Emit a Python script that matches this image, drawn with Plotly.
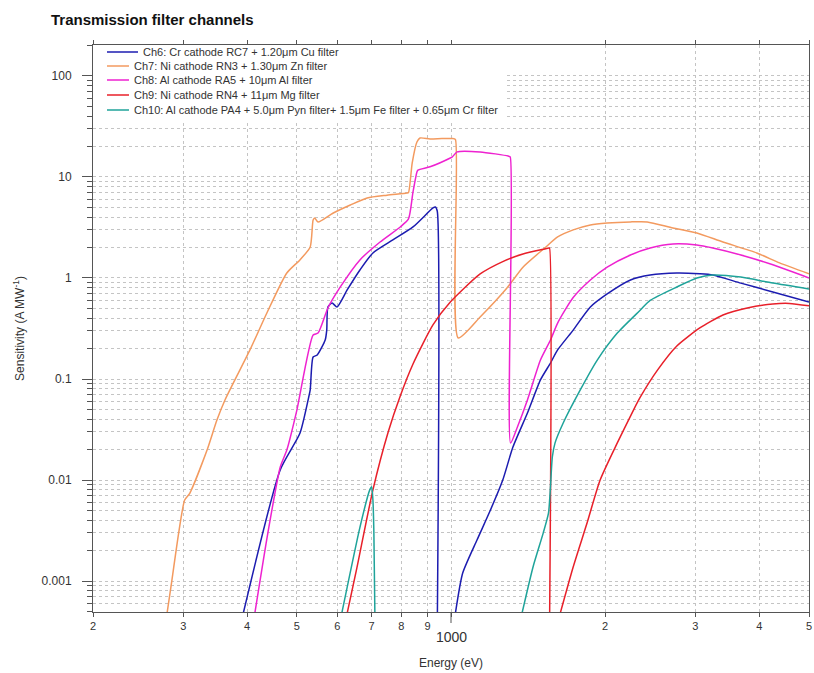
import plotly.graph_objects as go

# Sensitivity curves (A/MW) versus photon energy (eV); None splits a curve at a filter edge
ch6_energy = [393, 464, 507, 526, 531, 538, 548, 568, 572, 575, 586, 599, 627, 664, 704, 770, 843, 922,
              932, 940, 940, None,
              1020, 1054, 1124, 1194, 1262, 1321, 1410, 1495, 1564, 1615, 1732, 1871, 2018, 2241, 2448,
              2760, 3060, 3245, 3680, 4250, 5000]
ch6_sens = [0.00048, 0.0126, 0.029, 0.062, 0.078, 0.165, 0.173, 0.243, 0.305, 0.516, 0.566, 0.516, 0.761,
            1.2, 1.77, 2.38, 3.2, 4.93, 5.05, 4.6, 0.0003, None,
            0.00048, 0.0012, 0.00255, 0.00505, 0.01, 0.0212, 0.046, 0.098, 0.144, 0.194, 0.305, 0.516,
            0.695, 0.955, 1.07, 1.12, 1.10, 1.07, 0.89, 0.727, 0.578]

ch7_energy = [279, 285, 302, 309, 334, 349, 362, 405, 437, 478, 507, 531, 538, 542, 550, 589, 636, 686,
              750, 820, 826, 840, 858, 870, 910, 960, 1006, 1020, 1033, 1140, 1286, 1382, 1524, 1615,
              1732, 1871, 2018, 2241, 2416, 2712, 3020, 3396, 3954, 4380, 5000]
ch7_sens = [0.00048, 0.001, 0.00634, 0.0074, 0.0198, 0.039, 0.062, 0.194, 0.45, 1.12, 1.51, 2.03, 3.75,
            3.93, 3.58, 4.4, 5.28, 6.2, 6.6, 6.93, 7.0, 13.8, 22.2, 24.3, 23.8, 24.0, 24.0, 23.5, 0.255,
            0.411, 0.796, 1.28, 1.98, 2.55, 2.99, 3.35, 3.5, 3.59, 3.59, 3.13, 2.79, 2.27, 1.77, 1.41,
            1.10]

ch8_energy = [414, 439, 464, 478, 500, 538, 550, 575, 608, 664, 727, 796, 826, 843, 858, 862, 910, 997,
              1006, 1028, 1140, 1293, 1305, 1307, 1348, 1410, 1495, 1564, 1615, 1732, 1871, 2018, 2241,
              2448, 2712, 3020, 3245, 3680, 4250, 5000]
ch8_sens = [0.00048, 0.003, 0.0134, 0.0198, 0.049, 0.273, 0.285, 0.505, 0.815, 1.51, 2.27, 3.2, 3.84,
            7.1, 11.2, 11.7, 12.6, 15.4, 15.8, 17.7, 17.7, 16.1, 15.8, 0.0232, 0.0335, 0.062, 0.154,
            0.243, 0.358, 0.64, 0.955, 1.28, 1.69, 1.98, 2.17, 2.12, 1.98, 1.69, 1.35, 1.0]

ch9_energy = [627, 655, 704, 754, 796, 843, 922, 997, 1140, 1268, 1382, 1524, 1552, 1557, 1557, None,
              1634, 1732, 1846, 1955, 2112, 2270, 2343, 2532, 2760, 3060, 3396, 3788, 4250, 4580, 5000]
ch9_sens = [0.00048, 0.00135, 0.008, 0.0299, 0.068, 0.141, 0.343, 0.578, 1.096, 1.47, 1.73, 1.94, 1.98,
            1.98, 0.0003, None,
            0.00048, 0.00138, 0.00384, 0.01, 0.0233, 0.049, 0.0664, 0.123, 0.212, 0.32, 0.43, 0.505,
            0.553, 0.56, 0.53]

ch10_energy = [612, 664, 694, 700, 704, 707, 711, None,
               1376, 1446, 1514, 1550, 1564, 1577, 1596, 1656, 1788, 1930, 2112, 2343, 2448, 2760, 3020,
               3245, 3680, 4250, 5000]
ch10_sens = [0.00048, 0.0034, 0.008, 0.0086, 0.0063, 0.003, 0.0003, None,
             0.00048, 0.00138, 0.003, 0.0047, 0.0086, 0.0169, 0.0232, 0.0367, 0.078, 0.154, 0.285,
             0.482, 0.6, 0.815, 1.0, 1.07, 1.02, 0.89, 0.78]

channel_names = [
    "Ch6: Cr cathode RC7 + 1.20μm Cu filter",
    "Ch7: Ni cathode RN3 + 1.30μm Zn filter",
    "Ch8: Al cathode RA5 + 10μm Al filter",
    "Ch9: Ni cathode RN4 + 11μm Mg filter",
    "Ch10: Al cathode PA4 + 5.0μm Pyn filter+ 1.5μm Fe filter + 0.65μm Cr filter",
]
channel_colors = ["#1c1cb0", "#f39a5f", "#ee22d0", "#e8202a", "#1fa39a"]
channel_data = [
    (ch6_energy, ch6_sens),
    (ch7_energy, ch7_sens),
    (ch8_energy, ch8_sens),
    (ch9_energy, ch9_sens),
    (ch10_energy, ch10_sens),
]

x_tickvals = [200, 300, 400, 500, 600, 700, 800, 900, 1000, 2000, 3000, 4000, 5000]
x_ticktext = ["2", "3", "4", "5", "6", "7", "8", "9", "", "2", "3", "4", "5"]
y_tickvals = [0.001, 0.01, 0.1, 1, 10, 100]
y_ticktext = ["0.001", "0.01", "0.1", "1", "10", "100"]
y_minor = [k * 10.0 ** n for n in range(-4, 3) for k in range(2, 10)]

FONT = "Liberation Sans, Arial, sans-serif"
W, H = 814, 673
ML, MR, MT, MB = 93, 5, 45, 61
PW, PH = W - ML - MR, H - MT - MB
GRID = "#c4c4c4"
AXIS = "#555555"
TEXT = "#333333"

fig = go.Figure()
for (xs, ys), name, color in zip(channel_data, channel_names, channel_colors):
    fig.add_trace(go.Scatter(x=xs, y=ys, mode="lines", name=name, showlegend=False,
                             line=dict(color=color, width=1.5, shape="spline", smoothing=0.6),
                             connectgaps=False))


def px_x(p):
    return (p - ML) / PW


def px_y(p):
    return (H - MB - p) / PH


shapes = []
annotations = []

# legend panel
shapes.append(dict(type="rect", xref="paper", yref="paper", x0=0, x1=px_x(506), y0=px_y(122), y1=1,
                   fillcolor="white", line=dict(width=0), layer="above"))
row_y = [52, 66, 80, 95, 110]
for i, (name, color) in enumerate(zip(channel_names, channel_colors)):
    x_end = 138 if i == 0 else 129
    x_text = 141 if i == 0 else 132
    shapes.append(dict(type="line", xref="paper", yref="paper", x0=px_x(107), x1=px_x(x_end),
                       y0=px_y(row_y[i]), y1=px_y(row_y[i]), line=dict(color=color, width=1.5),
                       layer="above"))
    annotations.append(dict(xref="paper", yref="paper", x=px_x(x_text), y=px_y(row_y[i]), text=name,
                            showarrow=False, xanchor="left", yanchor="middle",
                            font=dict(family=FONT, size=11, color=TEXT)))

# longer tick and label for the decade at 1000 eV
shapes.append(dict(type="line", xref="x", yref="paper", x0=1000, x1=1000, y0=0, y1=-11 / PH,
                   line=dict(color=AXIS, width=1)))
annotations.append(dict(xref="x", yref="paper", x=3, y=px_y(637), text="1000", showarrow=False,
                        xanchor="center", yanchor="middle",
                        font=dict(family=FONT, size=14, color=TEXT)))

fig.update_layout(
    width=W, height=H,
    margin=dict(l=ML, r=MR, t=MT, b=MB, autoexpand=False),
    paper_bgcolor="white", plot_bgcolor="white",
    font=dict(family=FONT, size=11, color=TEXT),
    title=dict(text="<b>Transmission filter channels</b>", x=51 / W, xref="container", xanchor="left",
               y=1 - 20 / H, yref="container", yanchor="middle",
               font=dict(family=FONT, size=15, color="#111111")),
    showlegend=False,
    shapes=shapes,
    annotations=annotations,
    xaxis=dict(
        type="log", range=[2.30103, 3.69897],
        tickvals=x_tickvals, ticktext=x_ticktext,
        ticks="outside", ticklen=4, tickcolor=AXIS,
        showline=True, linecolor=AXIS, linewidth=1, mirror="ticks",
        showgrid=True, gridcolor=GRID, griddash="dot", gridwidth=1,
        zeroline=False,
        tickfont=dict(family=FONT, size=11, color=TEXT),
        title=dict(text="Energy (eV)", standoff=27, font=dict(family=FONT, size=12, color=TEXT)),
    ),
    yaxis=dict(
        type="log", range=[-3.306, 2.306],
        tickvals=y_tickvals, ticktext=y_ticktext,
        ticks="outside", ticklen=10, tickcolor=AXIS, ticklabelstandoff=8,
        showline=True, linecolor=AXIS, linewidth=1, mirror=True,
        showgrid=True, gridcolor=GRID, griddash="dot", gridwidth=1,
        minor=dict(tickvals=y_minor, ticks="outside", ticklen=5, tickcolor=AXIS,
                   showgrid=True, gridcolor=GRID, griddash="dot", gridwidth=1),
        zeroline=False,
        tickfont=dict(family=FONT, size=12, color=TEXT),
        title=dict(text="Sensitivity (A MW<sup>-1</sup>)", standoff=14,
                   font=dict(family=FONT, size=12, color=TEXT)),
    ),
    yaxis2=dict(
        type="log", range=[-3.306, 2.306], overlaying="y", side="right",
        tickvals=y_tickvals, ticks="inside", ticklen=8, tickcolor=AXIS,
        showticklabels=False, showgrid=False, zeroline=False, showline=False,
        minor=dict(tickvals=y_minor, ticks="inside", ticklen=4, tickcolor=AXIS, showgrid=False),
    ),
)

fig.write_html("out.html")
